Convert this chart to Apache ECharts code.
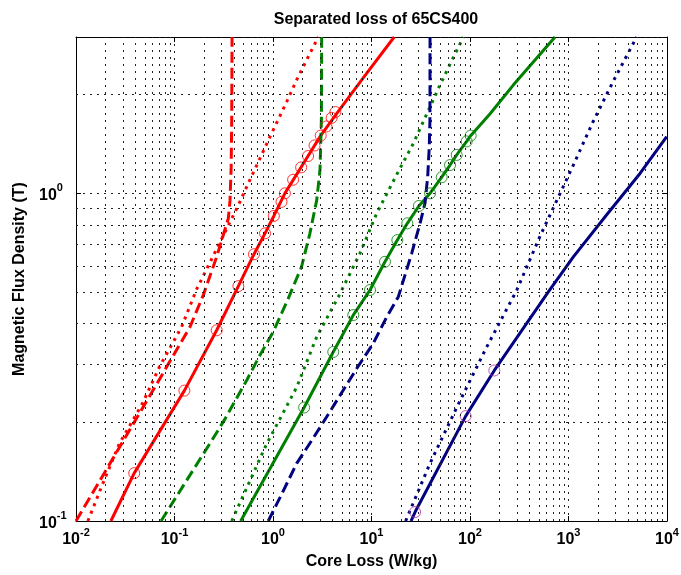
<!DOCTYPE html>
<html><head><meta charset="utf-8">
<script src="https://cdn.jsdelivr.net/npm/echarts@6/dist/echarts.min.js"></script>
<style>html,body{margin:0;padding:0;background:#fff}#c{width:681px;height:575px}</style>
</head><body><div id="c"></div>
<script>
// ---- tick values ----
const xRange = [0.01, 10000];
const yRange = [0.1, 3];
const xDecades = [0.01, 0.1, 1, 10, 100, 1000];
const yDecades = [0.1, 1];
const minorMultipliers = [2, 3, 4, 5, 6, 7, 8, 9];

// ---- red (lowest frequency) ----
const redTotal = [[0.0226,0.1],[0.039,0.14],[0.126,0.25],[0.268,0.382],[0.445,0.521],[0.641,0.652],[0.83,0.755],[1.02,0.853],[1.32,1.0],[2.27,1.3],[3.05,1.5],[4.6,1.78],[8.5,2.28],[17,3.0]];
const redMeasured = [[0.039,0.14],[0.126,0.25],[0.268,0.382],[0.445,0.521],[0.641,0.652],[0.83,0.755],[1.02,0.853],[1.22,0.942],[1.32,1.0],[1.6,1.1],[1.93,1.2],[2.27,1.3],[2.64,1.4],[3.05,1.5],[3.49,1.6],[3.94,1.7],[4.3,1.77]];
const redDashed = [[0.01,0.1],[0.03,0.175],[0.07,0.27],[0.1435,0.391],[0.196,0.489],[0.268,0.64],[0.352,0.839],[0.366,0.95],[0.376,1.2],[0.381,1.67],[0.384,3.0]];
const redDotted = [[0.0132,0.1],[0.0187,0.13],[0.0275,0.172],[0.0475,0.229],[0.0702,0.295],[0.118,0.391],[0.168,0.51],[0.445,0.92],[0.561,1.073],[0.738,1.28],[0.933,1.49],[1.38,1.905],[1.74,2.22],[2.38,2.68],[2.89,3.0]];

// ---- green (middle frequency) ----
const greenTotal = [[0.47,0.1],[2.07,0.222],[4.09,0.328],[6.53,0.425],[9.66,0.507],[13.7,0.618],[18.3,0.72],[23.1,0.81],[30.3,0.915],[39.3,1.0],[51.6,1.12],[62.7,1.22],[73.3,1.31],[92.5,1.44],[101.6,1.5],[160,1.75],[275,2.14],[730,3.0]];
const greenMeasured = [[2.07,0.222],[4.09,0.328],[6.53,0.425],[9.66,0.507],[13.7,0.618],[18.3,0.72],[23.1,0.81],[30.3,0.915],[39.3,1.0],[51.6,1.12],[62.7,1.22],[73.3,1.31],[92.5,1.44],[101.6,1.5]];
const greenDashed = [[0.073,0.1],[0.239,0.176],[0.326,0.205],[0.541,0.269],[0.738,0.321],[1.007,0.378],[1.43,0.478],[1.95,0.597],[2.37,0.755],[2.78,0.954],[3.0,1.18],[3.1,1.68],[3.12,3.0]];
const greenDotted = [[0.381,0.1],[0.863,0.172],[1.74,0.256],[2.78,0.365],[4.61,0.483],[7.64,0.656],[11.3,0.869],[18.0,1.14],[26.6,1.42],[49.5,2.14],[85.5,3.0]];

// ---- navy (highest frequency) ----
const navyTotal = [[25.2,0.1],[27.7,0.1065],[90.4,0.209],[176.6,0.288],[624,0.5],[1120,0.64],[2443,0.86],[5322,1.15],[9930,1.49]];
const navyMeasured = [[27.7,0.1065],[90.4,0.209],[176.6,0.288]];
const navyDashed = [[0.895,0.1],[1.18,0.118],[1.74,0.15],[2.47,0.176],[3.51,0.208],[5.18,0.251],[7.08,0.292],[10.4,0.348],[14.3,0.42],[18.7,0.483],[25.6,0.656],[31.1,0.81],[34.9,0.932],[37.2,1.124],[38.6,1.387],[39.2,1.675],[39.3,3.0]];
const navyDotted = [[22.2,0.1],[39.3,0.15],[73.3,0.222],[148,0.34],[298,0.506],[514,0.74],[1119,1.22],[1786,1.66],[2851,2.2],[4920,3.0]];

// ---- styling ----
const FONT = '"Liberation Sans", Arial, Helvetica, sans-serif';
const RED = '#ff0000', GREEN = '#008000', NAVY = '#000080', MAG = '#b02cb0';
const DASH = [11, 5], DOT = [3, 5];
const gridStyle = { color: '#222', width: 1, type: [2, 5] };

const xMinorGrid = [];
xDecades.forEach(d => minorMultipliers.forEach(m => xMinorGrid.push(d * m)));
const yMinorGrid = [];
yDecades.forEach(d => minorMultipliers.forEach(m => { if (d * m < yRange[1]) yMinorGrid.push(d * m); }));

function powLabel(v) {
  const e = Math.round(Math.log10(v));
  if (Math.abs(v - Math.pow(10, e)) > 1e-6 * v) return '';
  return '{b|10}{s|' + e + '}';
}
const richLabel = {
  b: { fontSize: 16, fontWeight: 'bold', fontFamily: FONT, color: '#000', lineHeight: 26 },
  s: { fontSize: 11, fontWeight: 'bold', fontFamily: FONT, color: '#000', lineHeight: 13, verticalAlign: 'top' }
};

function line(data, color, type, z) {
  return { type: 'line', data: data, showSymbol: false, symbol: 'none', smooth: false,
    lineStyle: { color: color, width: 3, type: type, cap: 'butt' }, z: z || 3, silent: true };
}
function circles(data, color) {
  return { type: 'scatter', data: data, symbol: 'circle', symbolSize: 11,
    itemStyle: { color: 'transparent', borderColor: color, borderWidth: 1 }, z: 4, silent: true };
}

const gridSeries = {
  type: 'line', data: [[xRange[0], yRange[0]]], showSymbol: false, symbol: 'none',
  lineStyle: { opacity: 0 }, z: 1, silent: true,
  markLine: {
    silent: true, symbol: ['none', 'none'], label: { show: false }, animation: false,
    lineStyle: gridStyle,
    emphasis: { disabled: true },
    data: xMinorGrid.map(v => ({ xAxis: v })).concat(yMinorGrid.map(v => ({ yAxis: v })))
  }
};

const chart = echarts.init(document.getElementById('c'), null, { renderer: 'canvas' });
chart.setOption({
  animation: false,
  backgroundColor: '#fff',
  title: {
    text: 'Separated loss of 65CS400', left: 371, top: 7, textAlign: 'center',
    textStyle: { fontFamily: FONT, fontSize: 16, fontWeight: 'bold', color: '#000' }
  },
  grid: { left: 76, right: 14, top: 37, bottom: 54, containLabel: false, outerBoundsMode: 'none' },
  xAxis: [{
    type: 'log', logBase: 10, min: xRange[0], max: xRange[1], position: 'bottom',
    name: 'Core Loss (W/kg)', nameLocation: 'middle', nameGap: 33,
    nameTextStyle: { fontFamily: FONT, fontSize: 16, fontWeight: 'bold', color: '#000' },
    axisLine: { show: true, onZero: false, lineStyle: { color: '#000', width: 1 } },
    axisTick: { show: true, inside: true, length: 5, lineStyle: { color: '#000' } },
    axisLabel: { formatter: powLabel, margin: 6, rich: richLabel, showMinLabel: true, showMaxLabel: true },
    splitLine: { show: true, lineStyle: gridStyle },
    minorTick: { show: false }
  }, {
    type: 'log', logBase: 10, min: xRange[0], max: xRange[1], position: 'top',
    axisLine: { show: true, onZero: false, lineStyle: { color: '#000', width: 1 } },
    axisTick: { show: true, inside: true, length: 5, lineStyle: { color: '#000' } },
    axisLabel: { show: false }, splitLine: { show: false }
  }],
  yAxis: [{
    type: 'log', logBase: 10, min: yRange[0], max: yRange[1], position: 'left',
    name: 'Magnetic Flux Density (T)', nameLocation: 'middle', nameGap: 48,
    nameTextStyle: { fontFamily: FONT, fontSize: 16, fontWeight: 'bold', color: '#000' },
    axisLine: { show: true, onZero: false, lineStyle: { color: '#000', width: 1 } },
    axisTick: { show: true, inside: true, length: 5, lineStyle: { color: '#000' } },
    axisLabel: { formatter: powLabel, margin: 37, align: 'left', padding: [5, 0, 0, 0], rich: richLabel, showMinLabel: true, showMaxLabel: true },
    splitLine: { show: true, lineStyle: gridStyle },
    minorTick: { show: false }
  }, {
    type: 'log', logBase: 10, min: yRange[0], max: yRange[1], position: 'right',
    axisLine: { show: true, onZero: false, lineStyle: { color: '#000', width: 1 } },
    axisTick: { show: true, inside: true, length: 5, lineStyle: { color: '#000' } },
    axisLabel: { show: false }, splitLine: { show: false }
  }],
  series: [
    gridSeries,
    line(redDashed, RED, DASH), line(redDotted, RED, DOT), line(redTotal, RED, 'solid'),
    line(greenDashed, GREEN, DASH), line(greenDotted, GREEN, DOT), line(greenTotal, GREEN, 'solid'),
    line(navyDashed, NAVY, DASH), line(navyDotted, NAVY, DOT), line(navyTotal, NAVY, 'solid'),
    circles(redMeasured, RED), circles(greenMeasured, GREEN), circles(navyMeasured, MAG)
  ]
});
</script>
</body></html>
